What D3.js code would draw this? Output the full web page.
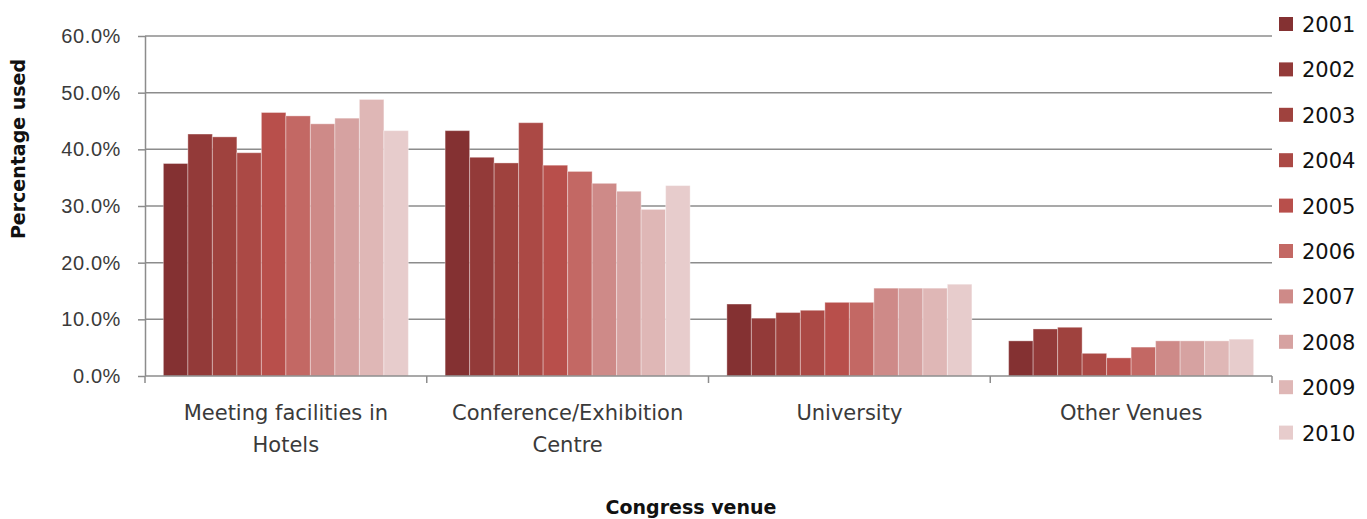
<!DOCTYPE html>
<html>
<head>
<meta charset="utf-8">
<script src="https://cdn.jsdelivr.net/npm/d3@7"></script>
<style>
  body { margin: 0; background: #fff; }
  svg { display: block; font-family: 'DejaVu Sans', Verdana, sans-serif; }
  .axis path, .axis line { stroke: #8c8c8c; }
  .grid line { stroke: #8c8c8c; stroke-width: 1.5; }
</style>
</head>
<body>
<div id="chart"></div>
<script>
const venues = [['Meeting facilities in', 'Hotels'], ['Conference/Exhibition', 'Centre'], ['University'], ['Other Venues']]
const years = ['2001', '2002', '2003', '2004', '2005', '2006', '2007', '2008', '2009', '2010']
const colors = ['#843132', '#933a39', '#9f423e', '#ab4945', '#b84f4b', '#c36864', '#ce8a88', '#d6a2a1', '#dfb7b6', '#e7cccc']

// percentage per venue, one value per year
const hotels = [37.5, 42.7, 42.2, 39.4, 46.5, 45.9, 44.5, 45.5, 48.8, 43.3]
const conference = [43.3, 38.6, 37.6, 44.7, 37.2, 36.1, 34.0, 32.6, 29.4, 33.6]
const university = [12.7, 10.2, 11.2, 11.6, 13.0, 13.0, 15.5, 15.5, 15.5, 16.2]
const other = [6.2, 8.3, 8.6, 4.0, 3.2, 5.1, 6.2, 6.2, 6.2, 6.5]
const yTicks = [0, 10, 20, 30, 40, 50, 60]

const data = [hotels, conference, university, other].map((vals, i) => ({
  key: venues[i].join(' '),
  lines: venues[i],
  values: vals.map((v, j) => ({ year: years[j], value: v }))
}))

const width = 1367
const height = 519
const marginLeft = 145
const plotRight = 1272
const marginTop = 36
const plotBottom = 376

const svg = d3.select('#chart').append('svg')
  .attr('width', width)
  .attr('height', height)

const x0 = d3.scaleBand()
  .domain(data.map(d => d.key))
  .range([marginLeft, plotRight])

// Excel style gap width 150%
const pad = x0.bandwidth() * 0.75 / 11.5
const x1 = d3.scaleBand()
  .domain(years)
  .range([pad, x0.bandwidth() - pad])

const y = d3.scaleLinear()
  .domain([0, 60])
  .range([plotBottom, marginTop])

const color = d3.scaleOrdinal().domain(years).range(colors)

// gridlines
svg.append('g')
  .attr('class', 'grid')
  .selectAll('line')
  .data(yTicks.filter(t => t > 0))
  .enter()
  .append('line')
  .attr('x1', marginLeft)
  .attr('x2', plotRight)
  .attr('y1', d => y(d))
  .attr('y2', d => y(d))

// bars
const groups = svg.append('g').selectAll('g.venue')
  .data(data)
  .enter()
  .append('g')
  .attr('class', 'venue')
  .attr('transform', d => 'translate(' + [x0(d.key), 0] + ')')

groups.selectAll('rect')
  .data(d => d.values)
  .enter()
  .append('rect')
  .attr('x', d => x1(d.year))
  .attr('y', d => y(d.value))
  .attr('width', x1.bandwidth())
  .attr('height', d => y(0) - y(d.value))
  .attr('fill', d => color(d.year))
  .attr('stroke', 'rgba(255,255,255,0.35)')
  .attr('stroke-width', 1)

// y axis
const yAxis = d3.axisLeft(y)
  .tickValues(yTicks)
  .tickSize(7)
  .tickPadding(17)
  .tickFormat(d => d.toFixed(1) + '%')

svg.append('g')
  .attr('class', 'axis y')
  .attr('transform', 'translate(' + [marginLeft, 0] + ')')
  .call(yAxis)
  .call(g => g.select('.domain').attr('d', 'M0.5,' + marginTop + 'V' + plotBottom).attr('stroke-width', 1.5))
  .call(g => g.selectAll('.tick line').attr('stroke-width', 1.5))
  .call(g => g.selectAll('.tick text').attr('fill', '#3a3a3a').style('font-size', '20px').style('letter-spacing', '0.6px'))

// x axis with ticks on category boundaries
const xg = svg.append('g').attr('class', 'axis x')
xg.append('line')
  .attr('x1', marginLeft)
  .attr('x2', plotRight)
  .attr('y1', plotBottom)
  .attr('y2', plotBottom)
  .attr('stroke-width', 1.5)

const bounds = data.map(d => x0(d.key)).concat([plotRight])
xg.selectAll('line.tick')
  .data(bounds)
  .enter()
  .append('line')
  .attr('class', 'tick')
  .attr('x1', d => d)
  .attr('x2', d => d)
  .attr('y1', plotBottom)
  .attr('y2', plotBottom + 7)
  .attr('stroke-width', 1.5)

const labels = xg.selectAll('text.cat')
  .data(data)
  .enter()
  .append('text')
  .attr('class', 'cat')
  .attr('text-anchor', 'middle')
  .attr('fill', '#3a3a3a')
  .style('font-size', '21px')

labels.selectAll('tspan')
  .data(d => d.lines.map(l => ({ l, cx: x0(d.key) + x0.bandwidth() / 2 })))
  .enter()
  .append('tspan')
  .attr('x', d => d.cx)
  .attr('y', (d, i) => 420 + i * 32)
  .text(d => d.l)

// axis titles
svg.append('text')
  .attr('transform', 'translate(' + [25, 149] + ') rotate(-90)')
  .attr('text-anchor', 'middle')
  .style('font-size', '19px')
  .style('font-weight', 'bold')
  .attr('fill', '#111')
  .text('Percentage used')

svg.append('text')
  .attr('x', 691)
  .attr('y', 514)
  .attr('text-anchor', 'middle')
  .style('font-size', '19px')
  .style('font-weight', 'bold')
  .attr('fill', '#111')
  .text('Congress venue')

// legend
const legend = svg.append('g').selectAll('g.legend')
  .data(years)
  .enter()
  .append('g')
  .attr('class', 'legend')
  .attr('transform', (d, i) => 'translate(' + [1279, 24 + i * 45.4] + ')')

legend.append('rect')
  .attr('x', 0)
  .attr('y', -7)
  .attr('width', 14)
  .attr('height', 14)
  .attr('fill', d => color(d))

legend.append('text')
  .attr('x', 23)
  .attr('y', 8)
  .style('font-size', '21px')
  .attr('fill', '#111')
  .text(d => d)
</script>
</body>
</html>
